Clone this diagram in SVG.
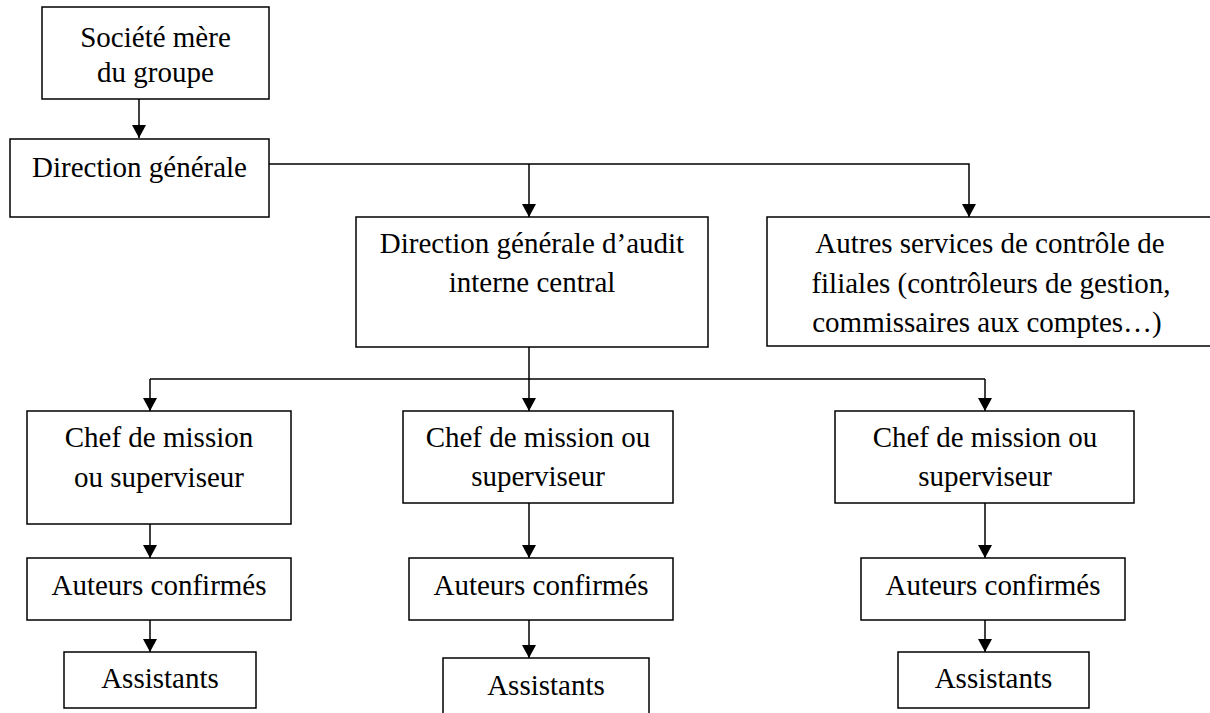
<svg xmlns="http://www.w3.org/2000/svg" width="1210" height="713" viewBox="0 0 1210 713">
  <defs>
    <!-- solid triangular arrowhead, tip sits on the end of the line -->
    <marker id="tip" markerUnits="userSpaceOnUse" markerWidth="16" markerHeight="16" viewBox="-14 -8 16 16" refX="0" refY="0" orient="auto">
      <path d="M0,0 L-13,-7 L-13,7 Z" fill="#000"/>
    </marker>
    <style>
      .box { fill: #fff; stroke: #000; stroke-width: 1.5; }
      .lbl { font-family: "Liberation Serif", "Times New Roman", serif; font-size: 29px; fill: #000; text-anchor: middle; }
      .wire { fill: none; stroke: #000; stroke-width: 1.5; }
      .arr { marker-end: url(#tip); }
    </style>
  </defs>
  <rect width="1210" height="713" fill="#fff"/>

  <!-- connectors -->
  <g id="connectors" class="wire">
    <path class="arr" d="M139,99 V138"/>
    <path class="arr" d="M269,164 H969 V217"/>
    <path class="arr" d="M529,164 V217"/>
    <path class="arr" d="M529,347 V411"/>
    <path d="M150,379 H985"/>
    <path class="arr" d="M150,379 V411"/>
    <path class="arr" d="M985,379 V411"/>
    <path class="arr" d="M150,524 V558"/>
    <path class="arr" d="M150,620 V652"/>
    <path class="arr" d="M529,503 V558"/>
    <path class="arr" d="M529,620 V658"/>
    <path class="arr" d="M985,503 V558"/>
    <path class="arr" d="M985,620 V652"/>
  </g>

  <g id="societe-mere">
    <rect class="box" x="42" y="7" width="227" height="92"/>
    <text class="lbl" x="155.5" y="47">Société mère</text>
    <text class="lbl" x="155.5" y="82">du groupe</text>
  </g>
  <g id="direction-generale">
    <rect class="box" x="10" y="139" width="259" height="78"/>
    <text class="lbl" x="139.5" y="177">Direction générale</text>
  </g>
  <g id="audit-central">
    <rect class="box" x="356" y="217" width="352" height="130"/>
    <text class="lbl" x="532" y="253">Direction générale d’audit</text>
    <text class="lbl" x="532" y="292">interne central</text>
  </g>
  <g id="autres-services">
    <rect class="box" x="767" y="217" width="449" height="129"/>
    <text class="lbl" x="990" y="253">Autres services de contrôle de</text>
    <text class="lbl" x="991" y="293">filiales (contrôleurs de gestion,</text>
    <text class="lbl" x="987" y="332">commissaires aux comptes…)</text>
  </g>

  <g id="chef-1">
    <rect class="box" x="27" y="411" width="264" height="113"/>
    <text class="lbl" x="159" y="447">Chef de mission</text>
    <text class="lbl" x="159" y="487">ou superviseur</text>
  </g>
  <g id="auteurs-1">
    <rect class="box" x="27" y="558" width="264" height="62"/>
    <text class="lbl" x="159" y="595">Auteurs confirmés</text>
  </g>
  <g id="assistants-1">
    <rect class="box" x="64" y="652" width="192" height="56"/>
    <text class="lbl" x="160" y="688">Assistants</text>
  </g>

  <g id="chef-2">
    <rect class="box" x="403" y="411" width="270" height="92"/>
    <text class="lbl" x="538" y="447">Chef de mission ou</text>
    <text class="lbl" x="538" y="486">superviseur</text>
  </g>
  <g id="auteurs-2">
    <rect class="box" x="409" y="558" width="264" height="62"/>
    <text class="lbl" x="541" y="595">Auteurs confirmés</text>
  </g>
  <g id="assistants-2">
    <rect class="box" x="443" y="658" width="206" height="64"/>
    <text class="lbl" x="546" y="695">Assistants</text>
  </g>

  <g id="chef-3">
    <rect class="box" x="835" y="411" width="299" height="92"/>
    <text class="lbl" x="985" y="447">Chef de mission ou</text>
    <text class="lbl" x="985" y="486">superviseur</text>
  </g>
  <g id="auteurs-3">
    <rect class="box" x="861" y="558" width="264" height="62"/>
    <text class="lbl" x="993" y="595">Auteurs confirmés</text>
  </g>
  <g id="assistants-3">
    <rect class="box" x="898" y="652" width="191" height="56"/>
    <text class="lbl" x="993.5" y="688">Assistants</text>
  </g>
</svg>
